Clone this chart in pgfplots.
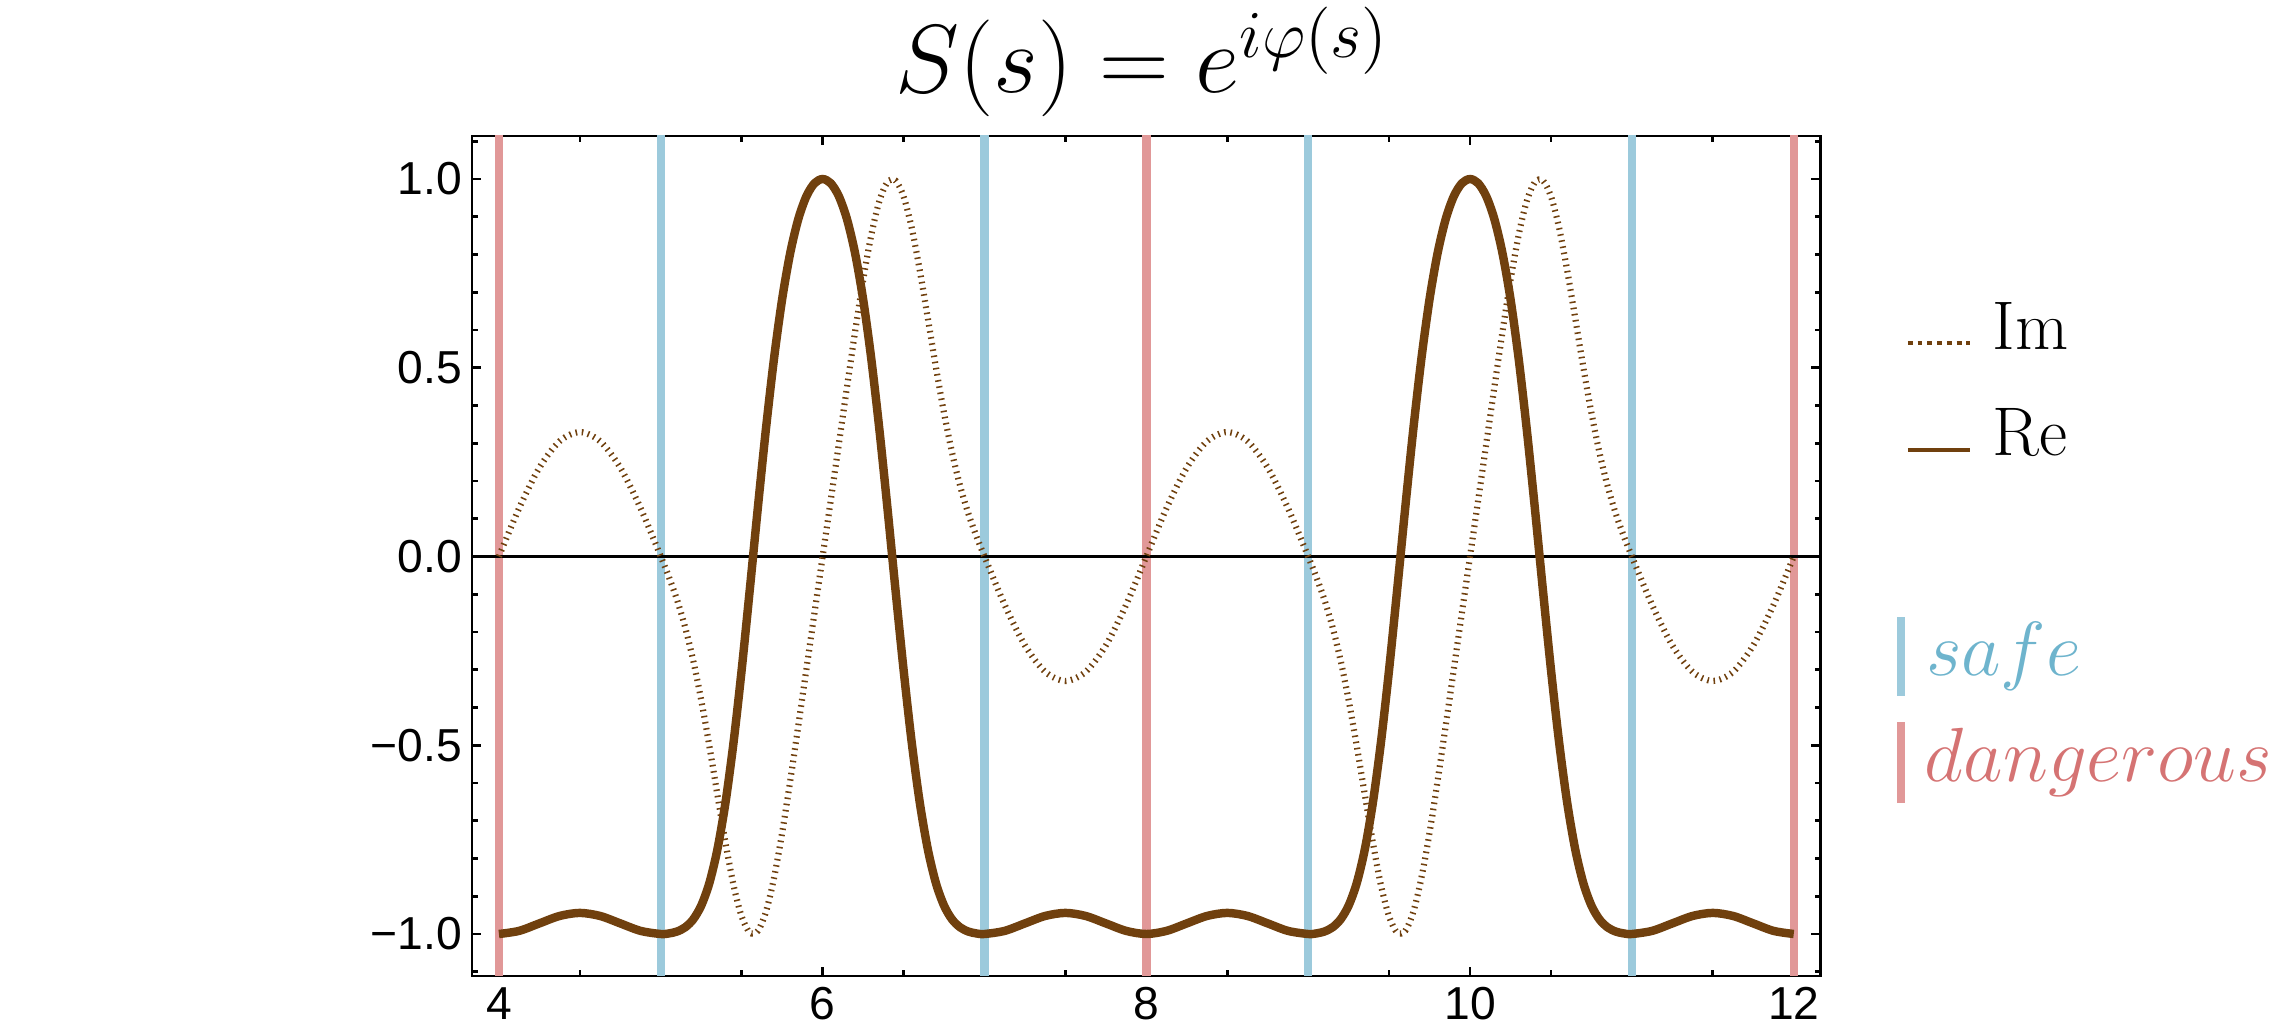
\documentclass[border=0pt]{standalone}
\usepackage{fontspec}
\usepackage{pgfplots}
\pgfplotsset{compat=1.18}
\newfontfamily\arial{Liberation Sans}
\definecolor{rebrown}{RGB}{112,64,14}
\definecolor{dangerbar}{RGB}{225,152,152}
\definecolor{safebar}{RGB}{156,202,220}
\definecolor{safetext}{RGB}{110,180,205}
\definecolor{dangertext}{RGB}{213,115,115}

\begin{document}
\begin{tikzpicture}
\useasboundingbox (-106.2pt,-11.25pt) rectangle (408.2pt,219.6pt);
\begin{axis}[scale only axis,width=303.5pt,height=189pt,
  xmin=3.8333,xmax=12.1667,ymin=-1.111,ymax=1.114,
  xtick={4,6,8,10,12},xticklabels={4,6,8,10,12},
  minor xtick={4.5,5,5.5,6.5,7,7.5,8.5,9,9.5,10.5,11,11.5},
  ytick={-1,-0.5,0,0.5,1},yticklabels={−1.0,−0.5,0.0,0.5,1.0},
  minor ytick={-1.1,-0.9,-0.8,-0.7,-0.6,-0.4,-0.3,-0.2,-0.1,0.1,0.2,0.3,0.4,0.6,0.7,0.8,0.9,1.1},
  tick align=inside,major tick length=2.1pt,minor tick length=1.35pt,
  every tick/.style={black,line width=0.6pt},
  axis line style={line width=0.6pt},
  tick label style={font=\arial\fontsize{10.4}{12}\selectfont},
  xticklabel style={inner ysep=2.4pt},
  yticklabel style={inner xsep=2pt}]
% safe / dangerous positions
\addplot[dangerbar,line width=1.9pt] coordinates {(4,-1.2)(4,1.2)};
\addplot[dangerbar,line width=1.9pt] coordinates {(8,-1.2)(8,1.2)};
\addplot[dangerbar,line width=1.9pt] coordinates {(12,-1.2)(12,1.2)};
\addplot[safebar,line width=1.9pt] coordinates {(5,-1.2)(5,1.2)};
\addplot[safebar,line width=1.9pt] coordinates {(7,-1.2)(7,1.2)};
\addplot[safebar,line width=1.9pt] coordinates {(9,-1.2)(9,1.2)};
\addplot[safebar,line width=1.9pt] coordinates {(11,-1.2)(11,1.2)};
\addplot[black,line width=0.7pt] coordinates {(3.8,0)(12.2,0)};
% Im
\addplot[rebrown,smooth,line width=1.4pt,dash pattern=on 0.35pt off 1.05pt] coordinates {
(4,0)(4.125,0.1282)(4.25,0.2354)(4.375,0.3055)(4.5,0.3297)(4.625,0.3055)(4.75,0.2354)(4.875,0.1282)(5,0)
(5.05,-0.0539)(5.1,-0.1141)(5.15,-0.1864)(5.2,-0.2748)(5.25,-0.3803)(5.3,-0.5014)(5.35,-0.6311)(5.4,-0.7588)
(5.45,-0.8712)(5.5,-0.9541)(5.55,-0.9962)(5.6,-0.9915)(5.65,-0.9407)(5.7,-0.8506)(5.75,-0.7314)(5.8,-0.5938)
(5.85,-0.4472)(5.9,-0.2977)(5.95,-0.1484)(6,0)
(6.05,0.1484)(6.1,0.2977)(6.15,0.4472)(6.2,0.5938)(6.25,0.7314)(6.3,0.8506)(6.35,0.9407)(6.4,0.9915)
(6.45,0.9962)(6.5,0.9541)(6.55,0.8712)(6.6,0.7588)(6.65,0.6311)(6.7,0.5014)(6.75,0.3803)(6.8,0.2748)
(6.85,0.1864)(6.9,0.1141)(6.95,0.0539)(7,0)
(7.125,-0.1282)(7.25,-0.2354)(7.375,-0.3055)(7.5,-0.3297)(7.625,-0.3055)(7.75,-0.2354)(7.875,-0.1282)(8,0)
(8.125,0.1282)(8.25,0.2354)(8.375,0.3055)(8.5,0.3297)(8.625,0.3055)(8.75,0.2354)(8.875,0.1282)(9,0)
(9.05,-0.0539)(9.1,-0.1141)(9.15,-0.1864)(9.2,-0.2748)(9.25,-0.3803)(9.3,-0.5014)(9.35,-0.6311)(9.4,-0.7588)
(9.45,-0.8712)(9.5,-0.9541)(9.55,-0.9962)(9.6,-0.9915)(9.65,-0.9407)(9.7,-0.8506)(9.75,-0.7314)(9.8,-0.5938)
(9.85,-0.4472)(9.9,-0.2977)(9.95,-0.1484)(10,0)
(10.05,0.1484)(10.1,0.2977)(10.15,0.4472)(10.2,0.5938)(10.25,0.7314)(10.3,0.8506)(10.35,0.9407)(10.4,0.9915)
(10.45,0.9962)(10.5,0.9541)(10.55,0.8712)(10.6,0.7588)(10.65,0.6311)(10.7,0.5014)(10.75,0.3803)(10.8,0.2748)
(10.85,0.1864)(10.9,0.1141)(10.95,0.0539)(11,0)
(11.125,-0.1282)(11.25,-0.2354)(11.375,-0.3055)(11.5,-0.3297)(11.625,-0.3055)(11.75,-0.2354)(11.875,-0.1282)(12,0)};
% Re
\addplot[rebrown,smooth,line width=1.9pt] coordinates {
(4,-1)(4.125,-0.9917)(4.25,-0.9719)(4.375,-0.9522)(4.5,-0.9441)(4.625,-0.9522)(4.75,-0.9719)(4.875,-0.9917)(5,-1)
(5.05,-0.9985)(5.1,-0.9935)(5.15,-0.9825)(5.2,-0.9615)(5.25,-0.9247)(5.3,-0.8652)(5.35,-0.7757)(5.4,-0.6513)
(5.45,-0.4909)(5.5,-0.2994)(5.55,-0.0875)(5.6,0.1304)(5.65,0.3390)(5.7,0.5256)(5.75,0.6820)(5.8,0.8045)
(5.85,0.8944)(5.9,0.9546)(5.95,0.9889)(6,1)
(6.05,0.9889)(6.1,0.9546)(6.15,0.8944)(6.2,0.8045)(6.25,0.6820)(6.3,0.5256)(6.35,0.3390)(6.4,0.1304)
(6.45,-0.0875)(6.5,-0.2994)(6.55,-0.4909)(6.6,-0.6513)(6.65,-0.7757)(6.7,-0.8652)(6.75,-0.9247)(6.8,-0.9615)
(6.85,-0.9825)(6.9,-0.9935)(6.95,-0.9985)(7,-1)
(7.125,-0.9917)(7.25,-0.9719)(7.375,-0.9522)(7.5,-0.9441)(7.625,-0.9522)(7.75,-0.9719)(7.875,-0.9917)(8,-1)
(8.125,-0.9917)(8.25,-0.9719)(8.375,-0.9522)(8.5,-0.9441)(8.625,-0.9522)(8.75,-0.9719)(8.875,-0.9917)(9,-1)
(9.05,-0.9985)(9.1,-0.9935)(9.15,-0.9825)(9.2,-0.9615)(9.25,-0.9247)(9.3,-0.8652)(9.35,-0.7757)(9.4,-0.6513)
(9.45,-0.4909)(9.5,-0.2994)(9.55,-0.0875)(9.6,0.1304)(9.65,0.3390)(9.7,0.5256)(9.75,0.6820)(9.8,0.8045)
(9.85,0.8944)(9.9,0.9546)(9.95,0.9889)(10,1)
(10.05,0.9889)(10.1,0.9546)(10.15,0.8944)(10.2,0.8045)(10.25,0.6820)(10.3,0.5256)(10.35,0.3390)(10.4,0.1304)
(10.45,-0.0875)(10.5,-0.2994)(10.55,-0.4909)(10.6,-0.6513)(10.65,-0.7757)(10.7,-0.8652)(10.75,-0.9247)(10.8,-0.9615)
(10.85,-0.9825)(10.9,-0.9935)(10.95,-0.9985)(11,-1)
(11.125,-0.9917)(11.25,-0.9719)(11.375,-0.9522)(11.5,-0.9441)(11.625,-0.9522)(11.75,-0.9719)(11.875,-0.9917)(12,-1)};
\end{axis}
% title
\node[anchor=base,inner sep=0pt,scale=1.05,font=\fontsize{20.74}{25}\selectfont] at (150.9pt,198.7pt) {$S(s)=e^{i\varphi(s)}$};
% legend
\draw[rebrown,line width=0.8pt,dash pattern=on 1.1pt off 1.1pt] (323.1pt,142.4pt) -- (337.1pt,142.4pt);
\node[anchor=base west,inner sep=0pt,font=\fontsize{15.5}{18}\selectfont] at (342pt,140.9pt) {Im};
\draw[rebrown,line width=0.8pt] (323.1pt,118.4pt) -- (337.1pt,118.4pt);
\node[anchor=base west,inner sep=0pt,font=\fontsize{15.5}{18}\selectfont] at (342pt,117pt) {Re};
\draw[safebar,line width=1.8pt] (321.6pt,63pt) -- (321.6pt,80.8pt);
\node[anchor=base west,inner sep=0pt,text=safetext,font=\fontsize{17.28}{20}\selectfont] at (327pt,67.7pt) {$safe$};
\draw[dangerbar,line width=1.8pt] (321.6pt,38.9pt) -- (321.6pt,57.2pt);
\node[anchor=base west,inner sep=0pt,text=dangertext,font=\fontsize{17.28}{20}\selectfont] at (326.7pt,43.7pt) {$dangerous$};
\end{tikzpicture}
\end{document}
